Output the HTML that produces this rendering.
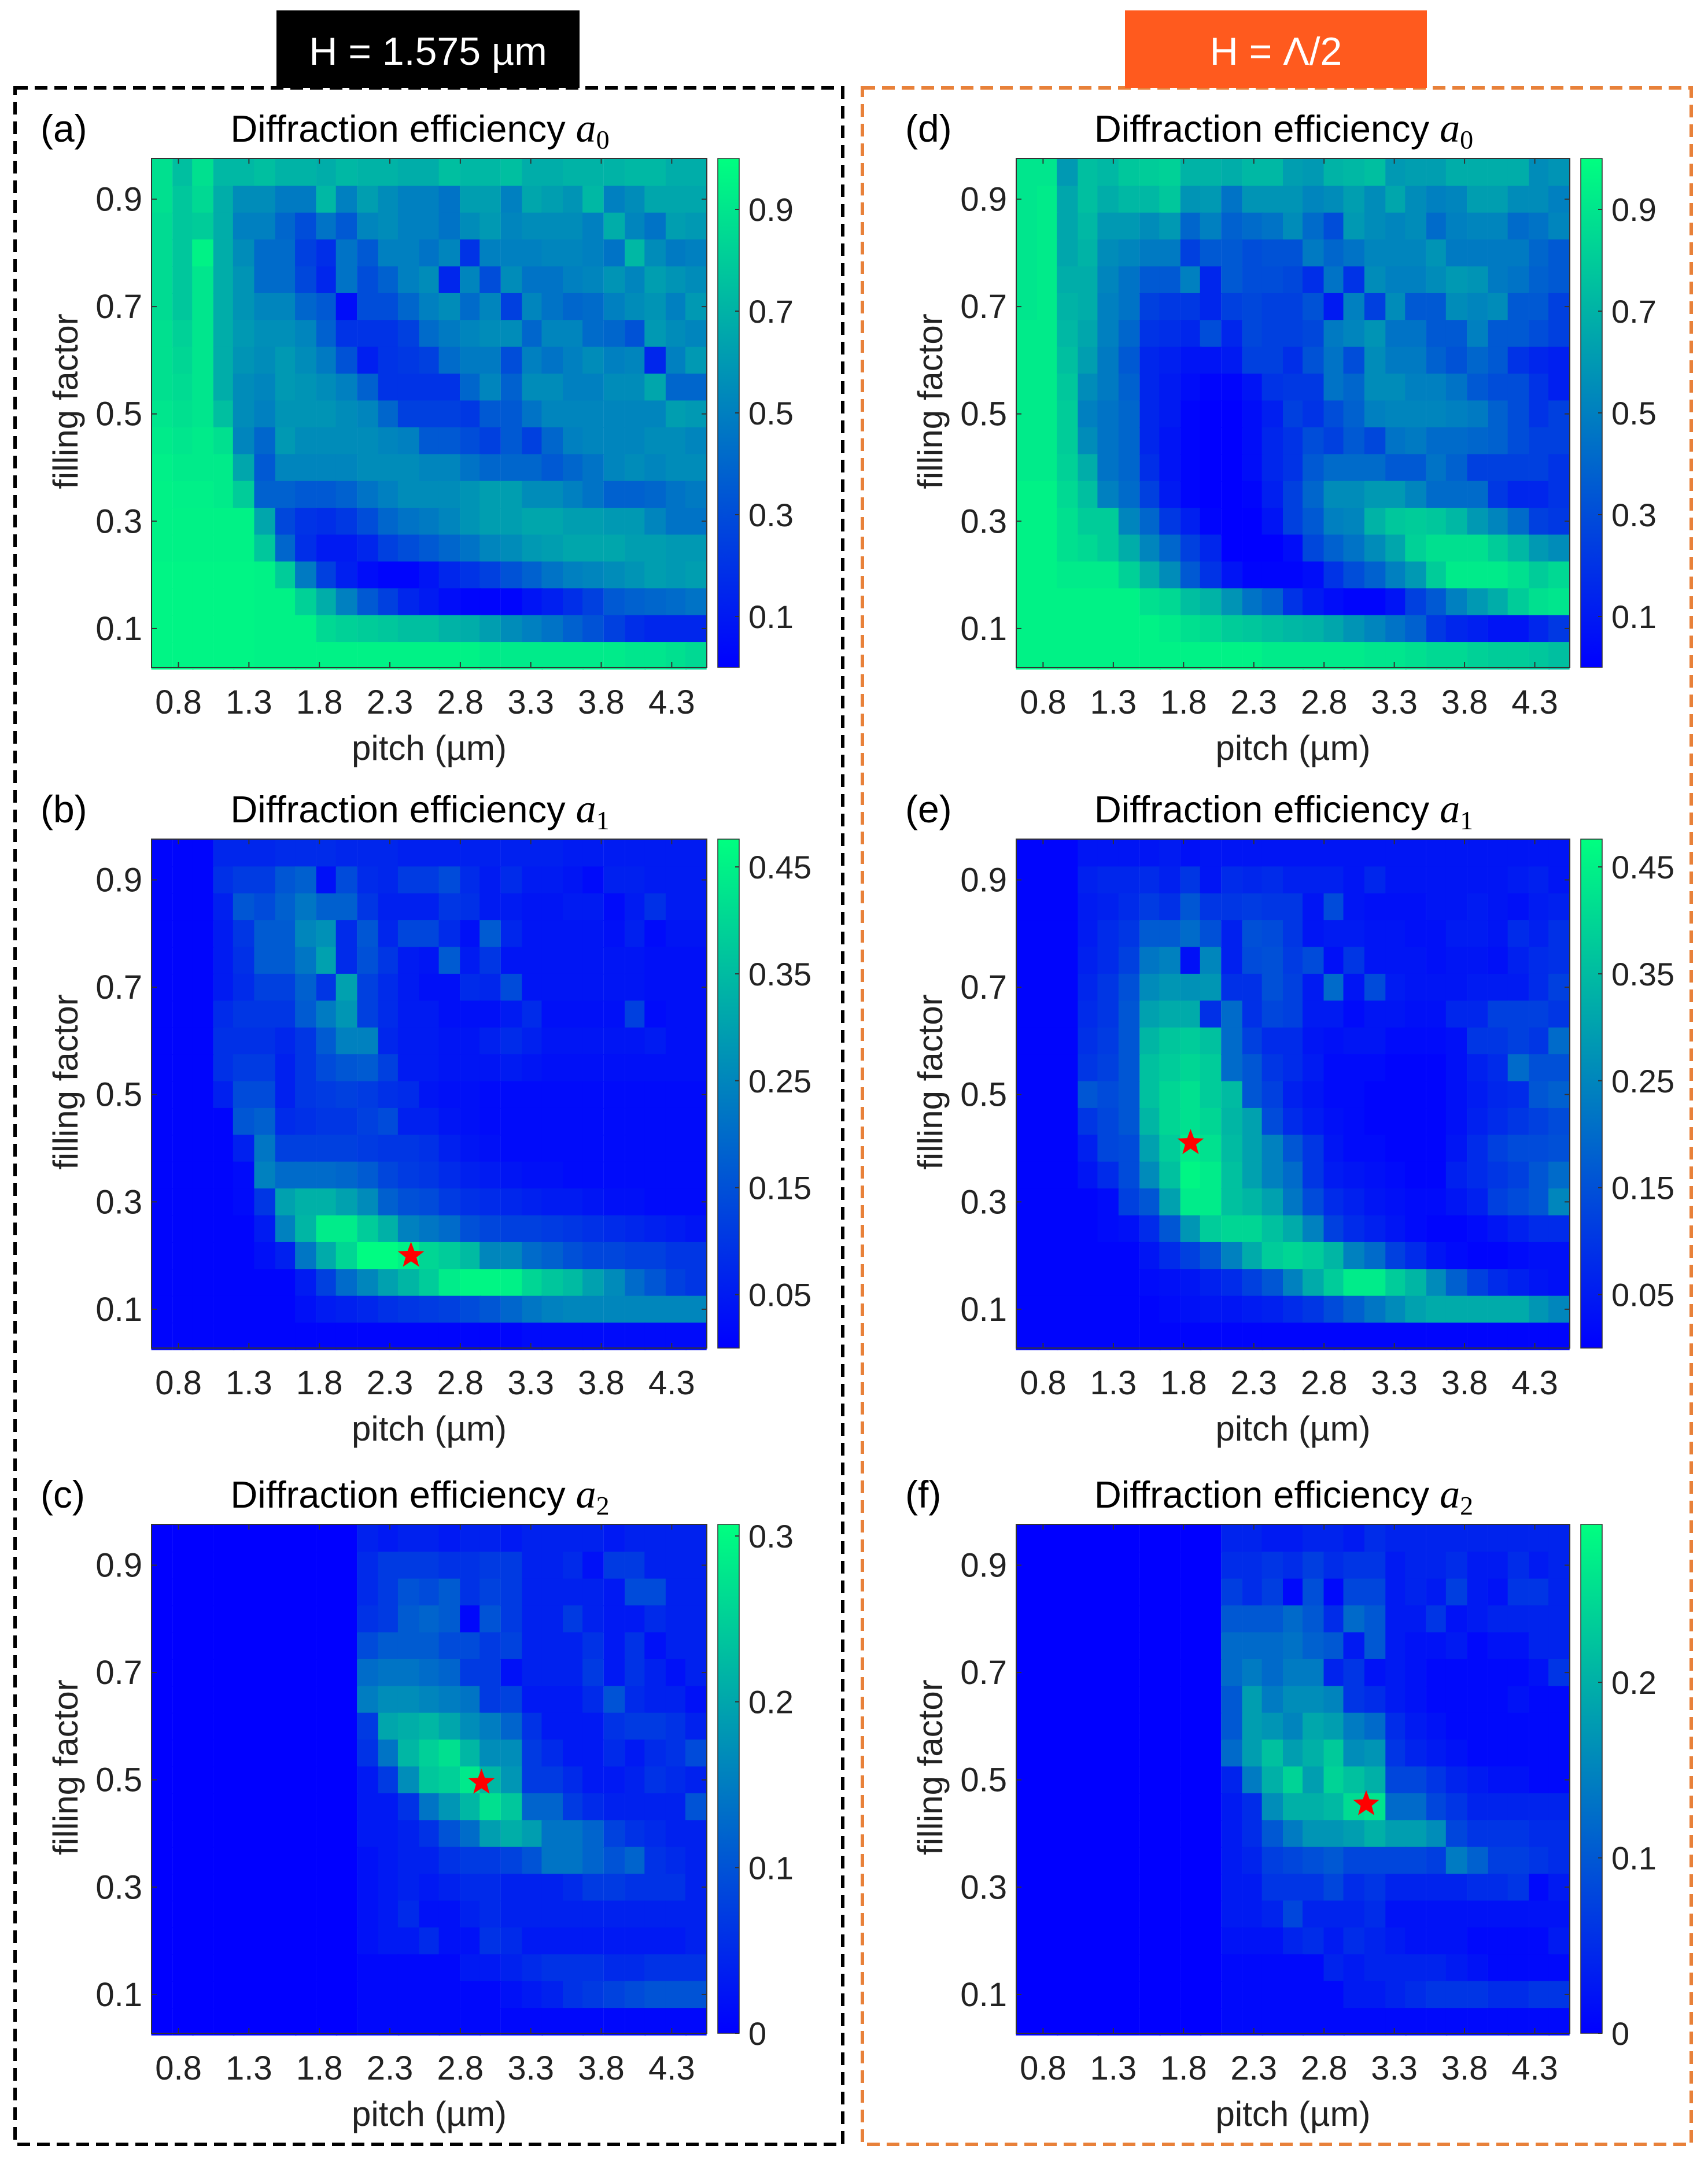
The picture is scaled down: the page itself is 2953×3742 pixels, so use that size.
<!DOCTYPE html>
<html><head><meta charset="utf-8"><style>
html,body{margin:0;padding:0;background:#fff;}
svg{display:block;font-family:"Liberation Sans",sans-serif;}
</style></head><body>
<svg id="fig" width="2953" height="3742" viewBox="0 0 2953 3742" xmlns="http://www.w3.org/2000/svg">
<rect x="26" y="152" width="1431" height="3556" fill="none" stroke="#000" stroke-width="6" stroke-dasharray="22,12"/>
<rect x="1491" y="152" width="1433" height="3556" fill="none" stroke="#E8813A" stroke-width="6" stroke-dasharray="22,12"/>
<rect x="478" y="18" width="524" height="134" fill="#000"/>
<text x="740" y="112" font-size="68" fill="#fff" text-anchor="middle">H = 1.575 µm</text>
<rect x="1945" y="18" width="522" height="134" fill="#FF5A1E"/>
<text x="2206" y="112" font-size="68" fill="#fff" text-anchor="middle">H = Λ/2</text>
<g id="panels"></g>
</svg>
<script>
const pitch=[0.68,0.83,0.97,1.12,1.26,1.41,1.56,1.70,1.85,1.99,2.14,2.29,2.43,2.58,2.72,2.87,3.01,3.16,3.31,3.45,3.60,3.74,3.89,4.04,4.18,4.33,4.47];
const fillFactor=[0.95,0.90,0.85,0.80,0.75,0.70,0.65,0.60,0.55,0.50,0.45,0.40,0.35,0.30,0.25,0.20,0.15,0.10,0.05];
const xTicks=[0.8,1.3,1.8,2.3,2.8,3.3,3.8,4.3];
const xTickLabels=["0.8","1.3","1.8","2.3","2.8","3.3","3.8","4.3"];
const yTicks=[0.9,0.7,0.5,0.3,0.1];
const yTickLabels=["0.9","0.7","0.5","0.3","0.1"];
// efficiencies in percent, rows top (ff 0.95) to bottom (ff 0.05)
const effA0=[
[88,75,88,72,72,75,70,70,68,72,70,70,68,68,75,72,72,75,68,68,70,70,70,72,72,68,68],
[88,78,85,68,55,55,48,48,72,50,62,55,50,50,45,62,62,50,65,62,58,72,50,55,65,65,65],
[86,78,80,68,50,50,40,30,45,35,52,55,50,50,45,55,60,52,55,55,55,50,68,52,45,62,60],
[86,78,95,68,55,42,42,25,18,45,35,50,50,45,52,20,50,50,50,52,52,50,45,72,55,48,50],
[86,78,90,68,58,42,42,28,15,45,30,38,50,55,15,52,30,55,45,45,50,52,58,52,62,58,55],
[86,78,90,68,58,52,52,40,35,5,30,30,40,50,55,42,52,25,52,45,40,42,50,55,58,50,60],
[88,82,90,68,60,56,56,52,38,20,20,20,25,42,48,52,55,55,40,52,52,42,40,32,60,55,52],
[88,84,90,68,58,55,60,55,48,32,12,20,22,25,42,48,48,30,50,45,50,55,50,52,15,50,60],
[88,86,90,68,55,52,60,58,55,50,38,20,20,20,20,40,52,38,55,55,50,50,55,55,65,40,40],
[90,88,90,75,55,50,58,58,58,55,52,40,25,25,25,22,35,35,45,52,52,52,52,52,52,62,60],
[92,90,92,88,52,40,60,55,55,55,55,52,50,35,35,30,25,35,25,40,50,52,52,52,55,55,52],
[94,92,92,92,65,35,52,52,52,52,55,55,55,52,52,45,40,40,40,35,40,45,52,55,52,55,55],
[95,94,94,92,80,38,38,35,35,38,45,50,55,55,55,58,62,62,55,55,50,45,38,38,40,45,48],
[95,95,95,95,95,65,28,20,18,22,30,40,45,48,52,58,62,62,65,65,62,62,60,60,52,45,45],
[95,95,95,95,95,78,40,18,10,10,15,25,30,35,40,45,52,55,60,62,65,65,65,62,62,60,60],
[96,96,96,96,96,95,80,48,25,12,5,2,2,8,15,20,25,32,38,45,50,52,55,58,62,60,62],
[96,96,96,96,96,95,95,82,68,50,35,25,15,10,5,2,2,2,8,12,18,25,35,38,40,42,45],
[96,96,96,96,96,95,95,95,85,82,80,78,75,75,70,68,62,55,50,45,38,32,25,18,15,15,15],
[96,96,96,96,96,95,95,95,95,95,95,95,95,95,95,95,92,92,92,92,92,92,92,90,90,88,85]];
const effA1=[
[1,1,1,7,7,7,8,8,8,7,7,7,6,6,6,6,6,6,6,6,5,5,5,5,5,5,5],
[1,1,1,9,11,11,16,18,3,14,8,7,11,11,14,8,5,8,5,5,4,2,6,6,5,5,5],
[1,1,1,6,16,14,18,22,18,18,10,6,6,6,10,9,5,5,4,4,5,5,2,5,9,5,5],
[1,1,1,5,10,17,17,25,27,8,16,7,13,13,8,3,17,7,4,4,4,4,3,6,2,4,4],
[1,1,1,5,9,17,17,22,30,8,15,10,5,4,17,5,10,4,4,4,4,4,4,4,3,3,3],
[1,1,1,5,8,12,12,18,10,30,12,8,5,3,3,8,7,14,4,4,4,4,4,4,3,3,3],
[1,1,1,8,10,10,10,17,23,28,12,8,5,5,3,3,3,5,8,3,3,3,3,12,2,3,3],
[1,1,1,9,9,9,7,10,17,24,24,7,5,5,4,4,6,8,6,4,4,4,4,4,5,3,3],
[1,1,1,9,11,11,6,10,14,16,17,12,5,5,4,4,4,5,4,3,3,3,3,3,3,3,3],
[1,1,1,6,14,14,6,10,11,12,11,9,8,4,3,3,2,2,2,2,2,2,2,2,2,2,2],
[1,1,1,1,16,18,8,9,10,10,12,14,6,6,4,3,2,2,2,2,2,2,2,2,2,2,2],
[1,1,1,1,6,22,12,12,12,12,11,10,10,9,6,4,3,2,2,2,2,2,2,2,2,2,2],
[1,1,1,1,2,24,20,20,20,19,17,13,11,10,8,6,5,4,3,3,2,2,2,2,2,2,2],
[1,1,1,1,2,10,30,33,33,30,26,18,15,14,11,9,8,7,6,5,5,4,3,3,2,2,2],
[1,1,1,1,1,5,24,34,44,44,38,33,24,22,20,15,13,12,12,11,10,9,8,7,6,5,4],
[1,1,1,1,1,3,6,22,32,40,47,47,45,40,38,35,25,25,20,18,15,13,13,12,12,10,10],
[1,1,1,1,1,1,1,5,12,20,25,30,34,38,44,46,46,45,40,37,35,30,26,20,16,12,10],
[1,1,1,1,1,1,1,3,5,6,7,9,10,11,12,14,16,19,22,24,25,25,25,25,25,25,25],
[1,1,1,1,1,1,1,1,1,1,1,1,1,1,1,1,1,1,2,2,2,2,2,2,2,2,2]];
const effA2=[
[0,0,0,0,0,0,0,0,0,0,4,3,4,4,3,4,4,3,4,4,4,4,3,4,4,4,4],
[0,0,0,0,0,0,0,0,0,0,5,7,7,7,6,6,7,7,4,4,5,2,7,7,4,4,4],
[0,0,0,0,0,0,0,0,0,0,5,7,10,9,11,6,8,7,4,4,4,4,3,9,9,4,4],
[0,0,0,0,0,0,0,0,0,0,6,7,11,12,11,1,10,7,4,4,7,4,3,3,5,4,4],
[0,0,0,0,0,0,0,0,0,0,9,11,11,11,9,9,7,8,4,4,4,6,3,6,2,4,4],
[0,0,0,0,0,0,0,0,0,0,13,14,14,13,12,7,7,2,4,4,4,7,3,6,4,2,4],
[0,0,0,0,0,0,0,0,0,0,15,17,17,16,15,14,7,8,3,3,3,5,10,5,4,4,2],
[0,0,0,0,0,0,0,0,0,0,7,20,21,22,20,17,15,12,6,3,3,3,6,7,7,6,4],
[0,0,0,0,0,0,0,0,0,0,6,14,22,25,27,22,17,17,7,5,3,3,5,3,5,6,9],
[0,0,0,0,0,0,0,0,0,0,3,7,17,24,25,28,22,18,7,7,5,3,3,4,6,5,4],
[0,0,0,0,0,0,0,0,0,0,3,3,6,14,18,22,27,24,12,12,7,5,4,4,4,4,10],
[0,0,0,0,0,0,0,0,0,0,3,3,4,6,10,13,19,21,19,14,14,12,8,6,5,4,4],
[0,0,0,0,0,0,0,0,0,0,2,3,4,4,6,7,7,8,10,14,14,12,10,12,6,5,4],
[0,0,0,0,0,0,0,0,0,0,2,3,4,3,4,5,5,4,4,4,5,7,7,6,6,6,4],
[0,0,0,0,0,0,0,0,0,0,2,3,5,2,2,4,5,4,4,4,4,4,4,4,4,4,4],
[0,0,0,0,0,0,0,0,0,0,2,3,3,5,2,2,6,5,3,3,3,3,3,3,3,3,4],
[0,0,0,0,0,0,0,0,0,0,1,1,1,1,1,3,3,4,5,6,6,6,5,5,6,6,6],
[0,0,0,0,0,0,0,0,0,0,1,1,1,1,1,1,1,2,3,4,6,7,8,9,10,10,10],
[0,0,0,0,0,0,0,0,0,0,1,1,1,1,1,1,1,1,1,1,1,1,1,1,1,1,1]];
const effD0=[
[90,90,60,75,72,78,80,82,70,70,68,72,72,62,60,70,72,75,60,62,62,68,68,68,68,55,58],
[90,92,65,75,68,72,72,78,58,60,45,58,58,58,52,55,62,55,65,55,50,52,62,62,55,55,50],
[90,92,65,72,60,60,55,60,40,50,38,42,45,55,42,30,60,55,52,55,42,50,52,52,42,45,52],
[90,92,65,70,55,52,48,48,25,35,35,30,32,32,48,40,45,52,52,52,58,48,48,48,48,40,35],
[90,92,68,68,52,45,35,35,50,15,35,30,30,28,18,45,20,55,50,50,55,60,58,48,45,38,35],
[90,92,70,68,50,45,25,22,22,15,25,28,25,25,32,10,50,25,55,35,35,55,52,55,35,35,25],
[92,92,72,65,50,40,20,18,15,30,15,28,25,25,28,48,52,58,45,45,35,35,50,35,35,30,25],
[92,92,75,62,48,35,15,12,8,8,10,25,25,18,32,45,30,55,48,48,38,32,40,35,20,15,12],
[92,92,78,55,48,38,15,10,5,2,2,8,20,22,22,45,40,55,55,50,50,45,35,30,30,20,12],
[92,92,80,50,45,40,15,10,2,0,0,5,12,25,20,30,38,50,52,52,52,50,48,38,30,20,25],
[92,92,80,55,45,40,15,8,2,0,0,5,15,20,30,25,35,28,45,48,42,42,40,38,30,25,25],
[92,92,82,68,45,40,18,8,2,0,0,5,15,20,35,42,42,42,35,35,45,38,25,25,25,25,20],
[95,95,85,75,50,42,25,10,2,0,0,2,12,25,40,55,55,60,60,52,42,42,42,22,15,15,20],
[95,95,88,80,80,52,40,22,12,2,0,0,8,25,35,50,52,70,78,80,78,72,60,52,42,25,22],
[95,95,88,85,80,68,52,40,25,15,0,0,0,5,28,38,45,55,65,82,88,88,88,80,72,60,55],
[95,95,92,92,92,82,68,55,35,20,8,2,2,2,5,20,30,38,50,60,80,92,92,92,88,80,85],
[95,95,95,95,95,95,88,85,75,70,58,45,38,20,10,5,2,2,8,25,35,50,60,68,80,88,90],
[95,95,95,95,95,95,95,92,88,85,80,78,75,72,70,65,58,52,45,38,22,15,12,8,8,15,22],
[95,95,95,95,95,95,95,95,95,95,95,95,92,92,92,92,92,90,90,88,85,85,82,80,80,78,75]];
const effD1=[
[1,1,1,4,4,4,4,5,3,4,4,4,4,4,4,4,4,4,4,4,4,4,4,4,4,4,4],
[1,1,1,6,7,7,8,6,10,4,8,7,8,6,6,6,4,7,4,4,4,4,4,4,5,6,4],
[1,1,1,5,6,8,11,9,16,10,10,11,10,10,4,14,4,3,3,3,4,4,5,4,3,5,6],
[1,1,1,5,8,10,17,17,20,15,6,15,14,10,4,5,5,4,4,3,3,5,5,4,8,6,9],
[1,1,1,6,8,12,22,24,3,25,6,14,15,11,14,3,10,4,4,4,3,4,4,3,6,8,9],
[1,1,1,7,10,15,26,28,27,28,9,9,15,12,5,20,4,14,5,4,4,4,5,5,5,8,12],
[1,1,1,8,10,16,30,32,32,9,20,9,13,12,5,5,2,4,4,3,3,7,7,12,12,12,10],
[1,1,1,9,11,16,34,37,38,36,20,12,8,8,4,3,4,4,2,2,2,3,10,10,12,10,20],
[1,1,1,10,12,16,36,38,40,38,20,16,10,8,5,2,2,2,1,1,1,3,6,8,20,15,15],
[1,1,1,16,14,16,36,40,42,38,35,16,12,6,4,2,2,1,1,1,1,3,5,7,8,16,18],
[1,1,1,10,13,16,34,40,42,40,34,30,14,8,5,3,2,1,1,1,1,3,6,8,10,12,14],
[1,1,1,6,13,14,30,38,44,42,35,30,24,16,10,4,2,2,1,1,1,4,8,12,14,14,15],
[1,1,1,4,8,14,26,36,46,44,36,30,24,20,10,5,4,3,2,1,1,6,8,10,12,16,20],
[1,1,1,1,2,12,16,30,44,44,36,34,30,22,14,8,6,4,3,2,2,4,6,12,14,16,25],
[1,1,1,1,2,3,8,16,28,38,40,40,36,32,24,12,8,6,4,2,1,1,2,4,6,8,8],
[1,1,1,1,1,1,4,8,12,16,24,32,38,40,38,34,24,20,12,8,4,2,1,1,2,3,3],
[1,1,1,1,1,1,2,3,4,6,8,12,16,24,32,38,44,44,38,34,26,18,12,8,6,4,3],
[1,1,1,1,1,1,1,2,3,4,4,5,6,8,10,14,18,22,26,30,32,32,32,32,32,28,25],
[1,1,1,1,1,1,1,1,1,1,1,1,1,1,1,1,1,1,1,1,1,1,1,1,1,1,1]];
const effD2=[
[0,0,0,0,0,0,0,0,0,0,4,4,3,3,4,4,3,5,4,4,4,4,4,4,4,4,4],
[0,0,0,0,0,0,0,0,0,0,5,5,6,5,7,5,6,6,3,4,4,5,3,3,5,3,4],
[0,0,0,0,0,0,0,0,0,0,7,5,7,1,9,1,8,8,3,4,3,7,3,2,6,6,4],
[0,0,0,0,0,0,0,0,0,0,10,10,10,12,10,5,12,10,3,3,6,2,3,4,4,4,4],
[0,0,0,0,0,0,0,0,0,0,12,12,12,13,11,10,3,10,3,2,2,3,1,2,2,4,4],
[0,0,0,0,0,0,0,0,0,0,12,14,12,14,14,4,6,2,3,2,1,1,1,1,1,2,6],
[0,0,0,0,0,0,0,0,0,0,10,18,14,16,16,15,6,5,3,2,1,1,1,1,2,1,1],
[0,0,0,0,0,0,0,0,0,0,10,18,17,15,19,18,14,12,5,3,2,1,1,1,1,1,1],
[0,0,0,0,0,0,0,0,0,0,12,18,22,18,20,23,16,17,6,4,3,2,1,1,1,1,1],
[0,0,0,0,0,0,0,0,0,0,4,14,20,24,18,24,22,20,8,8,6,4,3,2,2,1,1],
[0,0,0,0,0,0,0,0,0,0,3,5,16,20,20,21,25,26,12,12,8,6,4,4,4,4,4],
[0,0,0,0,0,0,0,0,0,0,3,5,10,14,17,17,18,20,18,18,16,8,6,6,6,5,5],
[0,0,0,0,0,0,0,0,0,0,3,4,7,8,9,10,8,8,8,8,7,14,11,7,7,6,5],
[0,0,0,0,0,0,0,0,0,0,3,3,6,6,6,8,5,6,4,4,4,4,5,5,6,1,3],
[0,0,0,0,0,0,0,0,0,0,3,3,4,8,4,4,4,5,2,2,2,2,2,2,2,2,2],
[0,0,0,0,0,0,0,0,0,0,2,2,2,4,5,3,5,4,3,2,2,2,1,1,1,1,3],
[0,0,0,0,0,0,0,0,0,0,1,1,1,1,1,4,3,4,4,4,4,3,2,1,1,1,1],
[0,0,0,0,0,0,0,0,0,0,1,1,1,1,1,1,3,3,4,5,6,6,6,5,5,6,6],
[0,0,0,0,0,0,0,0,0,0,1,1,1,1,1,1,1,1,1,1,1,1,1,1,1,1,1]];
const starPitch=[null,2.45,2.95,null,1.85,3.1];
const starFill=[null,0.20,0.495,null,0.41,0.455];
const cbarMax=[100,47.6,30.7,100,47.6,29];
const cbarTicks=[[10,30,50,70,90],[5,15,25,35,45],[0,10,20,30],[10,30,50,70,90],[5,15,25,35,45],[0,10,20]];
const cbarTickLabels=[["0.1","0.3","0.5","0.7","0.9"],["0.05","0.15","0.25","0.35","0.45"],["0","0.1","0.2","0.3"],["0.1","0.3","0.5","0.7","0.9"],["0.05","0.15","0.25","0.35","0.45"],["0","0.1","0.2"]];
const panelLetters=["(a)","(b)","(c)","(d)","(e)","(f)"];
const orderSub=["0","1","2","0","1","2"];

const NS="http://www.w3.org/2000/svg";
const root=document.getElementById('panels');
const X0=0.609,X1=4.549,Y0=0.0277,Y1=0.976,STEPX=0.1459,STEPY=0.05;
function mk(tag,attrs,parent){const e=document.createElementNS(NS,tag);for(const k in attrs)e.setAttribute(k,attrs[k]);(parent||root).appendChild(e);return e;}
function cmap(t){t=Math.max(0,Math.min(1,t));return `rgb(0,${Math.round(255*t)},${Math.round(255-127*t)})`;}
const datasets=[effA0,effA1,effA2,effD0,effD1,effD2];
for(let p=0;p<6;p++){
  const col=p<3?0:1,row=p%3;
  const px=col===0?262:1757, py=[274,1451,2636][row], W=col===0?960:957, H=880;
  const g=mk('g',{});
  
  
  const sx=v=>px+(v-X0)/(X1-X0)*W;
  const sy=v=>py+(Y1-v)/(Y1-Y0)*H;
  const data=datasets[p];
  for(let r=0;r<data.length;r++){for(let c=0;c<data[r].length;c++){
    const x0=sx(pitch[c]-STEPX/2),x1=sx(pitch[c]+STEPX/2),y0=sy(fillFactor[r]+STEPY/2),y1=sy(fillFactor[r]-STEPY/2);
    const cell=mk('rect',{x:x0.toFixed(1),y:y0.toFixed(1),width:(x1-x0+1.2).toFixed(1),height:(y1-y0+1.2).toFixed(1),fill:cmap(data[r][c]/cbarMax[p])},g);
    
    
  }}
  const fr=mk('rect',{x:px,y:py,width:W,height:H,fill:'none',stroke:'#333',"stroke-width":2},g);
  
  
  xTicks.forEach((v,i)=>{
    const x=sx(v);
    mk('line',{x1:x,y1:py+H,x2:x,y2:py+H-9,stroke:'#333',"stroke-width":2},g);
    mk('line',{x1:x,y1:py,x2:x,y2:py+9,stroke:'#333',"stroke-width":2},g);
    const t=mk('text',{x:x,y:py+H+80,"font-size":58,"text-anchor":"middle",fill:'#222'},g);t.textContent=xTickLabels[i];
    
    
  });
  yTicks.forEach((v,i)=>{
    const y=sy(v);
    mk('line',{x1:px,y1:y,x2:px+9,y2:y,stroke:'#333',"stroke-width":2},g);
    mk('line',{x1:px+W,y1:y,x2:px+W-9,y2:y,stroke:'#333',"stroke-width":2},g);
    const t=mk('text',{x:px-16,y:y+20,"font-size":58,"text-anchor":"end",fill:'#222'},g);t.textContent=yTickLabels[i];
    
    
  });
  const xl=mk('text',{x:px+W/2,y:py+H+160,"font-size":60,"text-anchor":"middle",fill:'#222'},g);xl.textContent='pitch (µm)';
  
  
  const yl=mk('text',{x:0,y:0,"font-size":60,"text-anchor":"middle",fill:'#222',transform:`translate(${px-128},${py+H/2-20}) rotate(-90)`},g);yl.textContent='filling factor';
  
  
  const tt=mk('text',{x:px+W/2-16,y:py-29,"font-size":65,"text-anchor":"middle",fill:'#000'},g);
  tt.innerHTML=`Diffraction efficiency <tspan font-family="Liberation Serif" font-style="italic" font-size="70">a</tspan><tspan font-family="Liberation Serif" font-size="46" dy="12">${orderSub[p]}</tspan>`;
  
  
  const lt=mk('text',{x:px-192,y:py-29,"font-size":66,fill:'#000'},g);lt.textContent=panelLetters[p];
  
  
  const cbx=px+W+19,cbw=37;
  const gradId='grad'+p;
  const defs=mk('defs',{},g);
  const lg=mk('linearGradient',{id:gradId,x1:0,y1:1,x2:0,y2:0},defs);
  mk('stop',{offset:0,"stop-color":cmap(0)},lg);mk('stop',{offset:1,"stop-color":cmap(1)},lg);
  const cb=mk('rect',{x:cbx,y:py,width:cbw,height:H,fill:`url(#${gradId})`,stroke:'#333',"stroke-width":1.5},g);
  
  
  cbarTicks[p].forEach((v,i)=>{
    const y=py+H-v/cbarMax[p]*H;
    mk('line',{x1:cbx+cbw,y1:y,x2:cbx+cbw-7,y2:y,stroke:'#333',"stroke-width":2},g);
    const t=mk('text',{x:cbx+cbw+16,y:y+20,"font-size":56,fill:'#222'},g);t.textContent=cbarTickLabels[p][i];
    
    
  });
  if(starPitch[p]!==null){
    const cx=sx(starPitch[p]),cy=sy(starFill[p]),R=24,r=10;let pts=[];
    for(let k=0;k<10;k++){const a=-Math.PI/2+k*Math.PI/5,rr=k%2?r:R;pts.push((cx+rr*Math.cos(a)).toFixed(1)+','+(cy+rr*Math.sin(a)).toFixed(1));}
    const st=mk('polygon',{points:pts.join(' '),fill:'#FF0000'},g);
    
    
  }
}
</script>
</body></html>
